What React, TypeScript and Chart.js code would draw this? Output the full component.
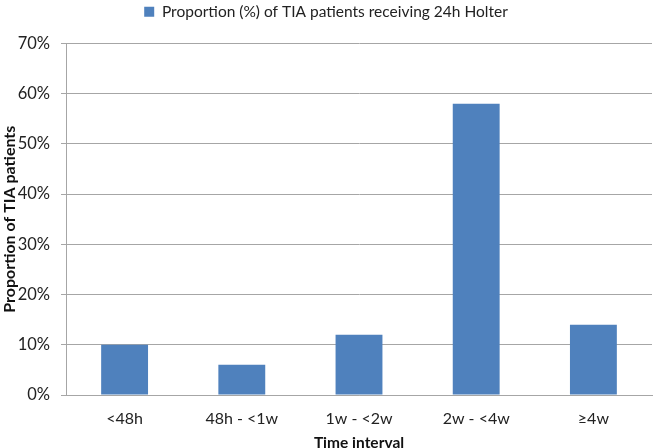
import React, { useEffect, useRef } from "react";
import { Chart, registerables } from "chart.js";

Chart.register(...registerables);

const categories = ["<48h", "48h - <1w", "1w - <2w", "2w - <4w", "≥4w"];
const proportions = [10, 6, 12, 58, 14];
const seriesLabel = "Proportion (%) of TIA patients receiving 24h Holter";
const xTitle = "Time interval";
const yTitle = "Proportion of TIA patients";

const FONT = "Lato, 'Open Sans', sans-serif";

const legendSpacer = {
  id: "legendSpacer",
  beforeInit(chart: any) {
    const legend = chart.legend;
    if (!legend) return;
    const orig = legend.fit;
    legend.fit = function () {
      orig.call(this);
      this.height += 14;
    };
  },
};

export default function App() {
  const ref = useRef<HTMLCanvasElement | null>(null);
  useEffect(() => {
    if (!ref.current) return;
    const chart = new Chart(ref.current, {
      type: "bar",
      data: {
        labels: categories,
        datasets: [
          {
            label: seriesLabel,
            data: proportions,
            backgroundColor: "#4F81BD",
            borderWidth: 0,
            categoryPercentage: 1,
            barPercentage: 0.4,
          },
        ],
      },
      plugins: [legendSpacer],
      options: {
        animation: false,
        responsive: false,
        maintainAspectRatio: false,
        layout: { padding: { left: 0, right: 1, top: 0, bottom: 0 } },
        plugins: {
          tooltip: { enabled: false },
          legend: {
            position: "top",
            labels: {
              boxWidth: 10,
              boxHeight: 10,
              color: "#222",
              font: { family: FONT, size: 15.5 },
              padding: 4,
            },
          },
        },
        scales: {
          x: {
            grid: { display: false, drawTicks: false },
            border: { color: "#a6a6a6", width: 1 },
            ticks: { color: "#222", font: { family: FONT, size: 16 }, padding: 14 },
            title: {
              display: true,
              text: xTitle,
              color: "#111",
              font: { family: FONT, size: 15.5, weight: "bold", lineHeight: 0.7 },
              padding: { top: 4, bottom: 0 },
            },
            afterFit: (s: any) => {
              s.height = 53;
            },
          },
          y: {
            min: 0,
            max: 70,
            ticks: {
              stepSize: 10,
              color: "#222",
              font: { family: FONT, size: 16.5 },
              padding: 11,
              callback: (v: any) => v + "%",
            },
            grid: { color: "#a6a6a6", tickLength: 5 },
            border: { color: "#a6a6a6" },
            title: {
              display: true,
              text: yTitle,
              color: "#111",
              font: { family: FONT, size: 16, weight: "bold", lineHeight: 1 },
              padding: { top: 2, bottom: 2 },
            },
            afterFit: (s: any) => {
              s.width = 66;
            },
          },
        },
      },
    });
    return () => chart.destroy();
  }, []);
  return (
    <div style={{ position: "fixed", left: 0, top: 0, width: 653, height: 448, background: "#fff" }}>
      <canvas ref={ref} width={653} height={448} />
    </div>
  );
}
